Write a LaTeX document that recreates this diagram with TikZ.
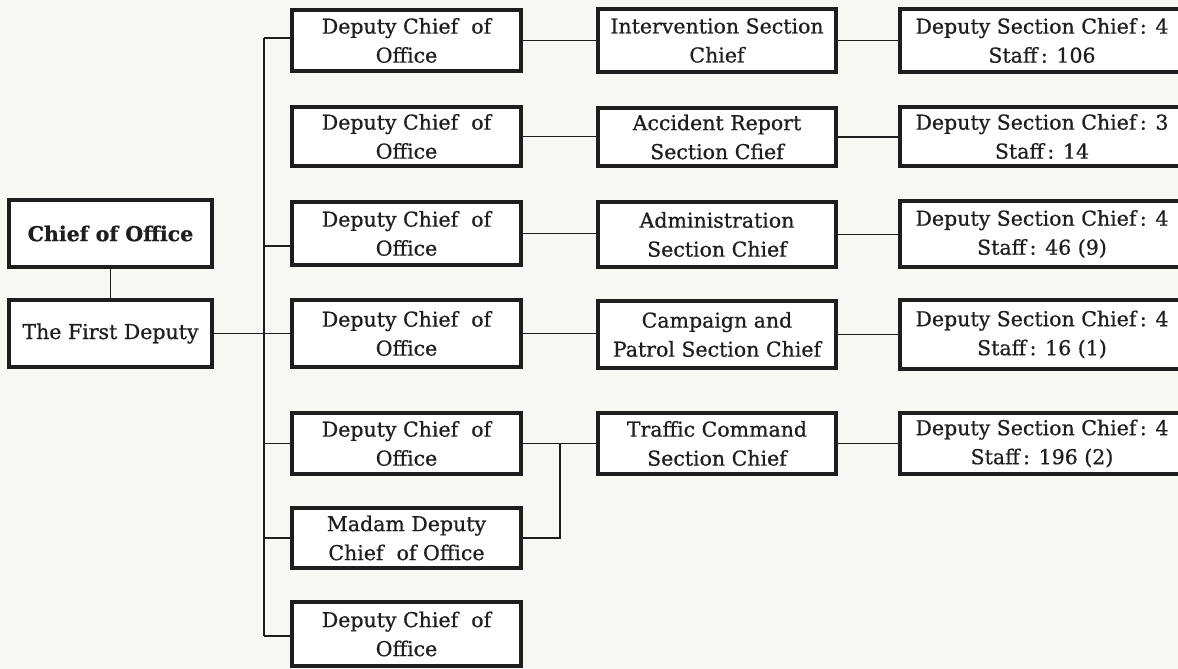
\documentclass[tikz,border=0pt]{standalone}
\usepackage{fontspec}
\setmainfont{DejaVu Serif}[FakeBold=0.7]
\usetikzlibrary{calc}
\definecolor{paper}{HTML}{F8F8F5}
\definecolor{ink}{HTML}{1E1E1E}
\tikzset{
  box/.style={draw=ink, line width=3.8pt, fill=white, align=center, inner sep=0pt,
    font=\fontsize{20.5}{29}\selectfont, text=ink},
  link/.style={draw=ink, line width=1.4pt},
}
\newcommand{\boxat}[6]{% name, x1, y1, x2, y2, text
  \node[box, minimum width={#4-#2}, minimum height={#5-#3}] (#1) at ({(#2+#4)/2},{(#3+#5)/2}) {#6};}
\begin{document}
\begin{tikzpicture}[x=1pt,y=-1pt]
\fill[paper] (0,0) rectangle (1178,669);
\useasboundingbox (0,0) rectangle (1178,669);
\clip (0,0) rectangle (1178,669);

% head of the office
\boxat{chief}{9}{200}{212}{267}{\textbf{Chief of Office}}
\boxat{first}{9}{300}{212}{367}{The First Deputy}

% deputies
\boxat{d1}{292}{10}{521}{71}{Deputy Chief~ of\\Office}
\boxat{d2}{292}{107}{521}{166}{Deputy Chief~ of\\Office}
\boxat{d3}{292}{202}{521}{265}{Deputy Chief~ of\\Office}
\boxat{d4}{292}{300}{521}{367}{Deputy Chief~ of\\Office}
\boxat{d5}{292}{413}{521}{474}{Deputy Chief~ of\\Office}
\boxat{d6}{292}{508}{521}{568}{Madam Deputy\\Chief~ of Office}
\boxat{d7}{292}{602}{521}{666}{Deputy Chief~ of\\Office}

% section chiefs
\boxat{m1}{598}{9}{836}{72}{Intervention Section\\Chief}
\boxat{m2}{598}{108}{836}{166}{Accident Report\\Section Cfief}
\boxat{m3}{598}{202}{836}{267}{Administration\\Section Chief}
\boxat{m4}{598}{301}{836}{368}{Campaign and\\Patrol Section Chief}
\boxat{m5}{598}{413}{836}{474}{Traffic Command\\Section Chief}

% section staff
\boxat{r1}{900}{9}{1184}{72}{Deputy Section Chief\,: 4\\Staff\,: 106}
\boxat{r2}{900}{107}{1184}{166}{Deputy Section Chief\,: 3\\Staff\,: 14}
\boxat{r3}{900}{201}{1184}{267}{Deputy Section Chief\,: 4\\Staff\,: 46 (9)}
\boxat{r4}{900}{300}{1184}{369}{Deputy Section Chief\,: 4\\Staff\,: 16 (1)}
\boxat{r5}{900}{413}{1184}{474}{Deputy Section Chief\,: 4\\Staff\,: 196 (2)}

% trunk
\coordinate (ttop) at (264,38);
\coordinate (tbot) at (264,636);
\coordinate (tmid) at (264,246);
\coordinate (fork) at (560,539);

\path[link] (chief.south) -- (first.north);
\path[link] (first.east) -- (d4.west);
\path[link] (ttop) -- (tbot);
\path[link] (ttop) -- (d1.west |- ttop);
\path[link] (tmid) -- (d3.west |- tmid);
\path[link] (ttop |- d5.west) -- (d5.west);
\path[link] (ttop |- d6.west) -- (d6.west);
\path[link] (tbot) -- (d7.west |- tbot);

% deputies to section chiefs
\foreach \i in {1,2,3,4,5}{
  \path[link] (d\i.east) -- (m\i.west |- d\i.east);
  \path[link] (m\i.east) -- (r\i.west |- m\i.east);
}
\path[link] (d6.east) -- (fork |- d6.east) -- (fork |- d5.east);
\end{tikzpicture}
\end{document}
